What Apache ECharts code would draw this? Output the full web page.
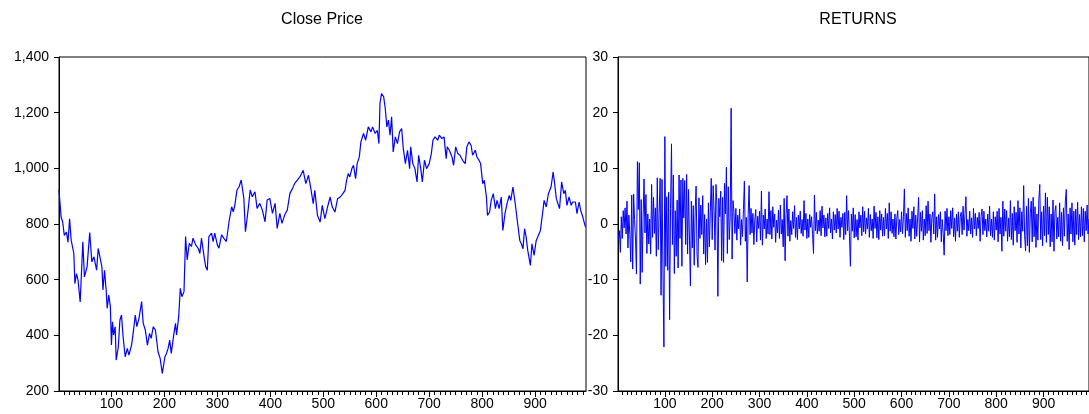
<!DOCTYPE html>
<html><head><meta charset="utf-8">
<script src="https://cdn.jsdelivr.net/npm/echarts@6/dist/echarts.min.js"></script>
<style>html,body{margin:0;padding:0;background:#fff}#c{width:1089px;height:414px}</style>
</head><body><div id="c"></div>
<script>
// ---- data ----
const closeObs = [1,5,8,11,15,18,21,24,29,31,34,37,41,46,49,54,59,63,67,72,75,78,82,84,87,90,92,95,98,100,102,104,107,109,113,116,119,122,126,130,133,138,141,145,148,152,157,160,164,168,172,175,179,183,188,192,196,201,204,207,210,213,218,221,223,227,230,233,237,240,243,247,251,254,259,264,267,270,275,278,281,284,289,292,295,300,303,308,312,317,322,327,330,333,337,341,345,350,353,358,362,366,371,375,380,385,390,394,399,404,409,413,418,422,427,432,437,442,446,451,456,462,467,472,476,481,484,489,494,498,503,508,513,517,522,527,532,537,541,544,547,550,554,557,561,564,568,571,576,580,585,590,593,598,602,605,607,610,614,617,620,623,626,629,632,636,640,644,648,651,655,659,663,665,669,673,677,680,684,687,691,695,700,704,707,711,716,719,724,728,732,734,738,743,746,750,754,758,763,768,771,775,779,782,787,790,794,797,801,804,808,810,814,817,821,825,828,832,836,839,843,847,851,854,858,862,867,871,874,877,880,883,886,891,894,898,902,905,910,913,917,921,925,930,934,936,940,943,946,950,954,957,960,964,968,971,976,979,983,986,990,995];
const closeVal = [921,825,807,759,771,735,819,742,694,586,622,598,520,736,610,646,769,664,682,634,712,718,646,563,634,563,497,545,503,365,449,401,431,311,359,455,473,395,323,353,329,365,407,473,431,461,521,443,419,365,407,389,431,419,341,317,263,323,335,353,383,335,407,443,401,467,569,539,557,755,671,731,719,749,725,712,694,749,682,646,634,755,767,737,767,725,713,761,749,737,808,862,844,868,922,934,958,892,772,850,922,898,916,856,874,850,808,886,892,838,874,784,838,802,832,850,910,928,946,958,970,993,945,975,933,873,921,831,807,867,819,861,897,861,843,891,897,909,921,957,981,969,999,1011,963,1017,1041,1095,1125,1101,1149,1131,1149,1125,1137,1089,1233,1269,1257,1215,1149,1173,1119,1185,1059,1113,1089,1131,1143,1071,1017,1065,999,1077,1017,999,951,1047,999,951,1029,999,1017,1053,1101,1113,1101,1119,1107,1113,1035,1077,1065,1041,1011,1077,1053,1047,1029,1017,1077,1095,1083,1047,1065,1041,1029,1017,945,957,897,831,843,885,909,855,885,855,897,777,837,873,903,885,933,879,801,741,729,711,783,753,705,651,729,687,741,747,777,771,885,861,909,933,987,957,891,897,855,951,909,921,867,897,867,879,879,837,879,849,825,789];

const retStart = 2, retStep = 2;
const returnsVal = [
-2.8,-1.2,-5.1,1.3,-2.6,2.4,-0.7,2.9,-1.8,4.1,
-4.3,1.6,-1.9,-6.8,5.2,-8.1,5.4,0.8,-2.7,-9.0,
11.2,2.6,11.0,-10.8,4.4,-8.7,1.2,8.1,-1.6,5.3,
-5.3,1.8,-3.6,0.9,-5.4,7.1,-2.4,4.8,-1.7,2.9,
-5.8,8.3,-4.6,1.9,8.2,-12.8,8.0,-8.8,-22.1,15.7,
-7.6,4.9,-8.3,5.7,-17.2,2.8,14.4,-3.7,8.8,-8.9,
2.4,-5.8,4.3,-7.9,8.8,-2.6,7.9,-7.6,8.2,1.1,
7.8,-3.7,8.9,-5.4,6.2,-2.9,-11.1,4.1,-4.3,3.3,
-7.4,2.2,6.8,-5.6,-7.8,4.7,-2.6,3.4,-1.9,5.1,
-5.4,1.7,-7.3,0.9,-6.9,3.8,-4.1,2.3,8.2,-2.8,
6.9,2.4,-4.7,7.1,3.2,-13.0,4.6,1.3,5.9,-6.6,
4.8,-6.9,7.3,1.8,10.2,-5.3,6.7,-2.8,1.2,20.8,
-6.3,4.2,2.1,-1.7,2.8,-2.9,1.6,-0.9,2.7,-3.8,
0.8,-2.3,2.6,7.7,-3.1,1.2,-10.4,1.7,6.9,-1.9,
2.8,-1.6,1.9,-3.7,0.7,2.6,-3.2,1.4,-0.8,2.3,
-2.9,5.9,-3.8,1.6,-0.9,2.7,-2.6,0.9,-1.8,5.8,
-1.9,2.4,-2.7,3.1,-0.6,1.8,-3.3,0.7,-1.6,2.5,
-2.6,3.4,-1.8,0.8,-4.1,4.6,-6.6,1.7,5.1,-2.2,
2.7,-3.1,0.6,-1.9,2.2,-0.8,3.3,-2.4,1.2,-2.8,
1.6,-0.9,2.3,-1.7,0.8,-2.2,4.2,-1.1,1.9,-2.6,
0.9,-2.4,1.7,-0.6,1.3,-1.9,-5.3,5.2,-1.2,2.1,
-1.8,0.7,-1.3,2.4,-2.1,3.2,-0.7,1.6,-2.3,1.1,
-2.2,1.9,-0.8,2.9,-1.6,0.9,-2.7,2.2,-1.1,1.7,
-1.6,2.8,-0.9,2.3,-2.4,1.2,-0.6,1.9,-2.8,2.1,
-1.9,5.1,-1.2,2.4,-2.2,-7.6,1.8,-1.3,2.9,-2.5,
1.7,-2.3,0.8,-2.9,2.2,-0.7,1.6,-2.1,3.1,-1.4,
2.3,-1.8,1.1,-0.9,2.8,-2.4,1.7,-1.2,0.9,-2.6,
3.2,-0.8,2.1,-2.5,1.3,-2.8,2.4,-1.1,1.8,-2.2,
1.2,-2.1,2.8,-0.9,1.9,-2.6,3.8,-1.3,2.2,-1.7,
0.9,-2.3,1.8,-2.7,1.1,2.4,-1.9,0.8,-1.4,2.2,
-1.8,1.3,6.3,-2.4,1.9,-1.2,2.9,-2.2,0.9,-3.1,
2.3,-0.8,3.1,-2.7,1.6,-2.2,1.1,4.8,-3.2,2.1,
-1.3,2.4,-2.9,0.9,-2.1,3.3,-1.7,4.1,-1.2,1.8,
-3.3,1.1,2.2,-1.8,5.4,-2.9,1.3,-2.4,1.7,-0.9,
2.2,-3.2,0.8,-1.7,-5.6,2.3,-1.2,2.8,-2.1,1.3,
-1.9,2.4,-0.8,2.9,-2.3,1.1,-3.1,1.8,-1.3,2.2,
-2.4,1.3,2.1,-1.9,3.2,-1.1,1.7,4.9,-2.2,0.8,
-1.2,2.3,-1.8,1.1,-2.4,2.8,-0.9,1.9,-2.1,1.2,
-0.8,2.1,-3.1,1.4,2.7,-1.9,2.3,-1.2,0.9,-2.3,
1.8,-1.3,3.2,-2.1,0.9,-2.4,2.2,-2.9,1.3,-1.1,
2.3,-3.2,2.8,-1.8,1.2,-4.9,4.1,-2.2,2.7,-1.3,
2.4,-3.1,1.1,-2.3,4.2,-2.8,1.9,-3.8,3.1,-1.2,
2.1,-3.3,4.2,-1.8,2.9,-4.3,2.2,-1.3,6.9,-2.1,
-4.8,3.2,-3.9,4.6,-5.1,1.9,4.1,-3.2,4.8,-2.3,
3.1,-4.2,1.8,-2.9,4.3,7.1,-2.8,2.2,-3.9,3.2,
-2.1,5.6,-3.3,4.8,-1.9,3.1,-4.1,1.8,-3.2,4.3,
-4.9,2.2,3.3,-2.7,1.2,-2.3,3.8,-3.1,2.1,-3.9,
2.9,-2.2,4.1,6.2,-3.1,1.8,-4.6,2.9,-1.8,3.8,
-3.2,2.3,-3.8,2.7,-1.9,3.9,-2.8,1.7,-2.3,3.1,
-2.1,2.8,-3.2,2.3,-1.2,3.4,-1.8,0.9
];

const xMajorTicks = [100,200,300,400,500,600,700,800,900];
const xMinorTicks = [10,20,30,40,50,60,70,80,90,100,110,120,130,140,150,160,170,180,190,200,210,220,230,240,250,260,270,280,290,300,310,320,330,340,350,360,370,380,390,400,410,420,430,440,450,460,470,480,490,500,510,520,530,540,550,560,570,580,590,600,610,620,630,640,650,660,670,680,690,700,710,720,730,740,750,760,770,780,790,800,810,820,830,840,850,860,870,880,890,900,910,920,930,940,950,960,970,980,990];
const obsMin = 1, obsMax = 996;
const titles = ['Close Price', 'RETURNS'];

// ---- chart ----
const FONT = "'Liberation Sans', Arial, sans-serif";
const black = '#000';
function xAxes(g) {
  return [
    {gridIndex:g, type:'value', min:obsMin, max:obsMax, position:'bottom',
     axisLine:{show:true, onZero:false, lineStyle:{color:black, width:1}},
     axisTick:{show:true, customValues:xMinorTicks, length:4, lineStyle:{color:black}},
     axisLabel:{show:false}, splitLine:{show:false}},
    {gridIndex:g, type:'value', min:obsMin, max:obsMax, position:'bottom',
     axisLine:{show:false, onZero:false},
     axisTick:{show:true, customValues:xMajorTicks, length:6, lineStyle:{color:black}},
     axisLabel:{show:true, customValues:xMajorTicks, margin:6, fontSize:14, color:black, fontFamily:FONT},
     splitLine:{show:false}}
  ];
}
const chart = echarts.init(document.getElementById('c'), null, {renderer:'canvas'});
chart.setOption({
  animation:false,
  backgroundColor:'#fff',
  graphic:[
    {type:'text', x:322, y:20, style:{text:titles[0], font:"16px " + FONT, fill:black, textAlign:'center', textVerticalAlign:'middle'}},
    {type:'text', x:858, y:20, style:{text:titles[1], font:"16px " + FONT, fill:black, textAlign:'center', textVerticalAlign:'middle'}}
  ],
  grid:[
    {left:59, top:57, width:527, height:334, show:true, borderColor:black, borderWidth:1, backgroundColor:'transparent'},
    {left:618, top:57, width:482, height:334, show:true, borderColor:black, borderWidth:1, backgroundColor:'transparent'}
  ],
  xAxis: xAxes(0).concat(xAxes(1)),
  yAxis:[
    {gridIndex:0, type:'value', min:200, max:1400, interval:200,
     axisLine:{show:true, lineStyle:{color:black}},
     axisTick:{show:true, length:5, lineStyle:{color:black}},
     axisLabel:{margin:10, fontSize:14, color:black, fontFamily:FONT,
       formatter:v => v.toLocaleString('en-US')},
     splitLine:{show:false}},
    {gridIndex:1, type:'value', min:-30, max:30, interval:10,
     axisLine:{show:true, onZero:false, lineStyle:{color:black}},
     axisTick:{show:true, length:5, lineStyle:{color:black}},
     axisLabel:{margin:10, fontSize:14, color:black, fontFamily:FONT},
     splitLine:{show:false}}
  ],
  series:[
    {type:'line', xAxisIndex:0, yAxisIndex:0, showSymbol:false, symbol:'none',
     lineStyle:{color:'#0000ff', width:1.2}, data: closeObs.map((o,i)=>[o, closeVal[i]])},
    {type:'line', xAxisIndex:2, yAxisIndex:1, showSymbol:false, symbol:'none',
     lineStyle:{color:'#0000ff', width:1}, data: returnsVal.map((v,i)=>[retStart + i*retStep, v])}
  ]
});
</script></body></html>
